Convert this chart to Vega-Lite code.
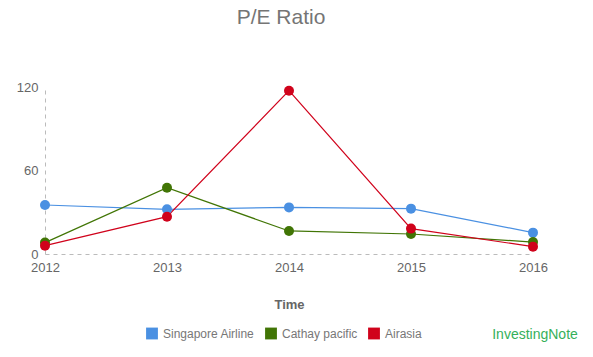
{
  "$schema": "https://vega.github.io/schema/vega-lite/v6.json",
  "width": 488,
  "height": 166.5,
  "autosize": {"type": "none"},
  "padding": {"left": 45, "top": 87.5, "right": 60, "bottom": 103},
  "background": "white",
  "config": {
    "font": "Liberation Sans",
    "view": {"stroke": null}
  },
  "title": {
    "text": "P/E Ratio",
    "fontSize": 21,
    "fontWeight": "normal",
    "color": "#757575",
    "anchor": "middle",
    "dx": -8,
    "offset": 54
  },
  "data": {
    "values": [
      {"year": "2012", "company": "Singapore Airline", "pe": 35.3},
      {"year": "2013", "company": "Singapore Airline", "pe": 32.2},
      {"year": "2014", "company": "Singapore Airline", "pe": 33.6},
      {"year": "2015", "company": "Singapore Airline", "pe": 32.7},
      {"year": "2016", "company": "Singapore Airline", "pe": 15.4},
      {"year": "2012", "company": "Cathay pacific", "pe": 8.2},
      {"year": "2013", "company": "Cathay pacific", "pe": 47.8},
      {"year": "2014", "company": "Cathay pacific", "pe": 16.6},
      {"year": "2015", "company": "Cathay pacific", "pe": 14.4},
      {"year": "2016", "company": "Cathay pacific", "pe": 8.6},
      {"year": "2012", "company": "Airasia", "pe": 6.0},
      {"year": "2013", "company": "Airasia", "pe": 26.9},
      {"year": "2014", "company": "Airasia", "pe": 117.7},
      {"year": "2015", "company": "Airasia", "pe": 18.3},
      {"year": "2016", "company": "Airasia", "pe": 5.3}
    ]
  },
  "encoding": {
    "x": {
      "field": "year",
      "type": "ordinal",
      "scale": {"type": "point", "padding": 0},
      "axis": {
        "title": "Time",
        "titleFontSize": 13,
        "titleFontWeight": "bold",
        "titleColor": "#666666",
        "titlePadding": 24,
        "labelAngle": 0,
        "labelFontSize": 13,
        "labelColor": "#666666",
        "labelPadding": 7,
        "ticks": false,
        "domainColor": "#bbbbbb",
        "domainDash": [4, 4],
        "domainWidth": 1,
        "grid": false
      }
    },
    "y": {
      "field": "pe",
      "type": "quantitative",
      "scale": {"domain": [0, 120]},
      "axis": {
        "title": null,
        "values": [0, 60, 120],
        "labelFontSize": 13,
        "labelColor": "#666666",
        "labelPadding": 7,
        "ticks": false,
        "domainColor": "#bbbbbb",
        "domainDash": [4, 4],
        "domainWidth": 1,
        "grid": false
      }
    },
    "color": {
      "field": "company",
      "type": "nominal",
      "scale": {
        "domain": ["Singapore Airline", "Cathay pacific", "Airasia"],
        "range": ["#4A90E2", "#417505", "#D0021B"]
      },
      "legend": {
        "title": null,
        "orient": "none",
        "direction": "horizontal",
        "legendX": 101,
        "legendY": 240,
        "symbolType": "square",
        "symbolSize": 140,
        "symbolStrokeWidth": 0,
        "symbolOpacity": 1,
        "labelFontSize": 12,
        "labelColor": "#777777",
        "labelOffset": 5,
        "columnPadding": 10
      }
    }
  },
  "layer": [
    {
      "mark": {"type": "line", "strokeWidth": 1.2}
    },
    {
      "mark": {"type": "point", "filled": true, "size": 100, "opacity": 1}
    },
    {
      "transform": [{"filter": "datum.year == '2016' && datum.company == 'Airasia'"}],
      "mark": {"type": "text", "fontSize": 14, "fontWeight": "normal", "align": "center", "baseline": "middle", "dx": 2},
      "encoding": {
        "x": {"datum": "2016"},
        "y": {"datum": -58.4},
        "text": {"value": "InvestingNote"},
        "color": {"value": "#35B05A"}
      }
    }
  ]
}
